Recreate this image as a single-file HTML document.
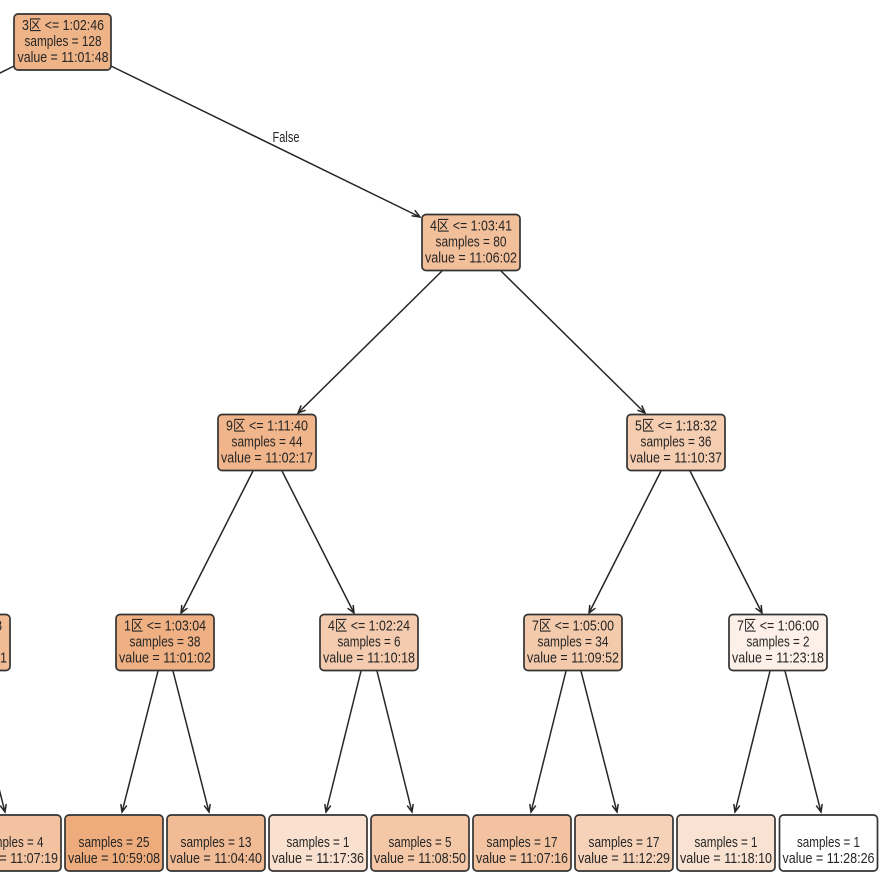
<!DOCTYPE html>
<html><head><meta charset="utf-8"><style>
html,body{margin:0;padding:0;background:#fff;width:891px;height:891px;overflow:hidden}
svg{display:block}
text{font-family:"Liberation Sans","Noto Sans CJK SC",sans-serif;font-size:15px;fill:#262626;text-anchor:middle}
rect{stroke:#333;stroke-width:1.7}
.e{stroke:#262626;stroke-width:1.5;fill:none}
</style></head><body>
<svg width="891" height="891" viewBox="0 0 891 891" xmlns="http://www.w3.org/2000/svg">
<g class="e">
<path d="M14 66L-2 74"/>
<path d="M111 66L420 217M411.600 215.800L420 217L414.800 210.200"/>
<path d="M442 271L298 413M301.200 405.400L298 413L305.600 410.200"/>
<path d="M501 271L645 413M637.400 410.200L645 413L641.800 405.400"/>
<path d="M253 471L181 613M181.800 605L181 613L187.400 608.200"/>
<path d="M282 471L354 613M347.600 608.200L354 613L353.200 605"/>
<path d="M661 471L589 613M589.800 605L589 613L595.400 608.200"/>
<path d="M690 471L762 613M755.600 608.200L762 613L761.200 605"/>
<path d="M158 671L122 812M120.800 804L122 812L126.800 805.600"/>
<path d="M173 671L209 812M204.200 805.600L209 812L210.200 804"/>
<path d="M361 671L326 812M324.800 804L326 812L330.800 805.600"/>
<path d="M377 671L412 812M407.200 805.600L412 812L413.200 804"/>
<path d="M566 671L531 812M529.800 804L531 812L535.800 805.600"/>
<path d="M581 671L617 812M612.200 805.600L617 812L618.200 804"/>
<path d="M770 671L735 812M733.800 804L735 812L739.800 805.600"/>
<path d="M785 671L821 812M816.200 805.600L821 812L822.200 804"/>
<path d="M-31 671L5 812M0.200 805.600L5 812L6.200 804"/>
</g>
<text x="286" y="142" textLength="27" lengthAdjust="spacingAndGlyphs">False</text>

<rect x="14" y="14" width="97" height="56" rx="4" fill="#efb388"/>
<text x="63" y="30" textLength="82" lengthAdjust="spacingAndGlyphs">3区 &lt;= 1:02:46</text>
<text x="63" y="46" textLength="77" lengthAdjust="spacingAndGlyphs">samples = 128</text>
<text x="63" y="62" textLength="91" lengthAdjust="spacingAndGlyphs">value = 11:01:48</text>

<rect x="422" y="214.500" width="98" height="56" rx="4" fill="#f2bf9b"/>
<text x="471" y="230.500" textLength="82" lengthAdjust="spacingAndGlyphs">4区 &lt;= 1:03:41</text>
<text x="471" y="246.500" textLength="71" lengthAdjust="spacingAndGlyphs">samples = 80</text>
<text x="471" y="262.500" textLength="92" lengthAdjust="spacingAndGlyphs">value = 11:06:02</text>

<rect x="218" y="414.500" width="98" height="56" rx="4" fill="#f0b58a"/>
<text x="267" y="430.500" textLength="82" lengthAdjust="spacingAndGlyphs">9区 &lt;= 1:11:40</text>
<text x="267" y="446.500" textLength="71" lengthAdjust="spacingAndGlyphs">samples = 44</text>
<text x="267" y="462.500" textLength="92" lengthAdjust="spacingAndGlyphs">value = 11:02:17</text>

<rect x="627" y="414.500" width="98" height="56" rx="4" fill="#f5cdb0"/>
<text x="676" y="430.500" textLength="82" lengthAdjust="spacingAndGlyphs">5区 &lt;= 1:18:32</text>
<text x="676" y="446.500" textLength="71" lengthAdjust="spacingAndGlyphs">samples = 36</text>
<text x="676" y="462.500" textLength="92" lengthAdjust="spacingAndGlyphs">value = 11:10:37</text>

<rect x="-88" y="614.500" width="98" height="56" rx="4" fill="#f1bb94"/>
<text x="-39" y="630.500" textLength="82" lengthAdjust="spacingAndGlyphs">2区 &lt;= 1:03:18</text>
<text x="-39" y="646.500" textLength="71" lengthAdjust="spacingAndGlyphs">samples = 42</text>
<text x="-39" y="662.500" textLength="92" lengthAdjust="spacingAndGlyphs">value = 11:05:21</text>

<rect x="116" y="614.500" width="98" height="56" rx="4" fill="#efb184"/>
<text x="165" y="630.500" textLength="82" lengthAdjust="spacingAndGlyphs">1区 &lt;= 1:03:04</text>
<text x="165" y="646.500" textLength="71" lengthAdjust="spacingAndGlyphs">samples = 38</text>
<text x="165" y="662.500" textLength="92" lengthAdjust="spacingAndGlyphs">value = 11:01:02</text>

<rect x="320" y="614.500" width="98" height="56" rx="4" fill="#f4cbae"/>
<text x="369" y="630.500" textLength="82" lengthAdjust="spacingAndGlyphs">4区 &lt;= 1:02:24</text>
<text x="369" y="646.500" textLength="63" lengthAdjust="spacingAndGlyphs">samples = 6</text>
<text x="369" y="662.500" textLength="92" lengthAdjust="spacingAndGlyphs">value = 11:10:18</text>

<rect x="524" y="614.500" width="98" height="56" rx="4" fill="#f4caac"/>
<text x="573" y="630.500" textLength="82" lengthAdjust="spacingAndGlyphs">7区 &lt;= 1:05:00</text>
<text x="573" y="646.500" textLength="71" lengthAdjust="spacingAndGlyphs">samples = 34</text>
<text x="573" y="662.500" textLength="92" lengthAdjust="spacingAndGlyphs">value = 11:09:52</text>

<rect x="729" y="614.500" width="98" height="56" rx="4" fill="#fcf0e8"/>
<text x="778" y="630.500" textLength="82" lengthAdjust="spacingAndGlyphs">7区 &lt;= 1:06:00</text>
<text x="778" y="646.500" textLength="63" lengthAdjust="spacingAndGlyphs">samples = 2</text>
<text x="778" y="662.500" textLength="92" lengthAdjust="spacingAndGlyphs">value = 11:23:18</text>

<rect x="-37" y="815" width="98" height="56" rx="4" fill="#f3c3a1"/>
<text x="12" y="847" textLength="63" lengthAdjust="spacingAndGlyphs">samples = 4</text>
<text x="12" y="863" textLength="92" lengthAdjust="spacingAndGlyphs">value = 11:07:19</text>

<rect x="65" y="815" width="98" height="56" rx="4" fill="#eeac7c"/>
<text x="114" y="847" textLength="71" lengthAdjust="spacingAndGlyphs">samples = 25</text>
<text x="114" y="863" textLength="92" lengthAdjust="spacingAndGlyphs">value = 10:59:08</text>

<rect x="167" y="815" width="98" height="56" rx="4" fill="#f1bb95"/>
<text x="216" y="847" textLength="71" lengthAdjust="spacingAndGlyphs">samples = 13</text>
<text x="216" y="863" textLength="92" lengthAdjust="spacingAndGlyphs">value = 11:04:40</text>

<rect x="269" y="815" width="98" height="56" rx="4" fill="#f9e0cf"/>
<text x="318" y="847" textLength="63" lengthAdjust="spacingAndGlyphs">samples = 1</text>
<text x="318" y="863" textLength="92" lengthAdjust="spacingAndGlyphs">value = 11:17:36</text>

<rect x="371" y="815" width="98" height="56" rx="4" fill="#f4c7a7"/>
<text x="420" y="847" textLength="63" lengthAdjust="spacingAndGlyphs">samples = 5</text>
<text x="420" y="863" textLength="92" lengthAdjust="spacingAndGlyphs">value = 11:08:50</text>

<rect x="473" y="815" width="98" height="56" rx="4" fill="#f3c3a1"/>
<text x="522" y="847" textLength="71" lengthAdjust="spacingAndGlyphs">samples = 17</text>
<text x="522" y="863" textLength="92" lengthAdjust="spacingAndGlyphs">value = 11:07:16</text>

<rect x="575" y="815" width="98" height="56" rx="4" fill="#f6d2b8"/>
<text x="624" y="847" textLength="71" lengthAdjust="spacingAndGlyphs">samples = 17</text>
<text x="624" y="863" textLength="92" lengthAdjust="spacingAndGlyphs">value = 11:12:29</text>

<rect x="677" y="815" width="98" height="56" rx="4" fill="#f9e2d1"/>
<text x="726" y="847" textLength="63" lengthAdjust="spacingAndGlyphs">samples = 1</text>
<text x="726" y="863" textLength="92" lengthAdjust="spacingAndGlyphs">value = 11:18:10</text>

<rect x="779.500" y="815" width="98" height="56" rx="4" fill="#ffffff"/>
<text x="828.500" y="847" textLength="63" lengthAdjust="spacingAndGlyphs">samples = 1</text>
<text x="828.500" y="863" textLength="92" lengthAdjust="spacingAndGlyphs">value = 11:28:26</text>
</svg>
</body></html>
